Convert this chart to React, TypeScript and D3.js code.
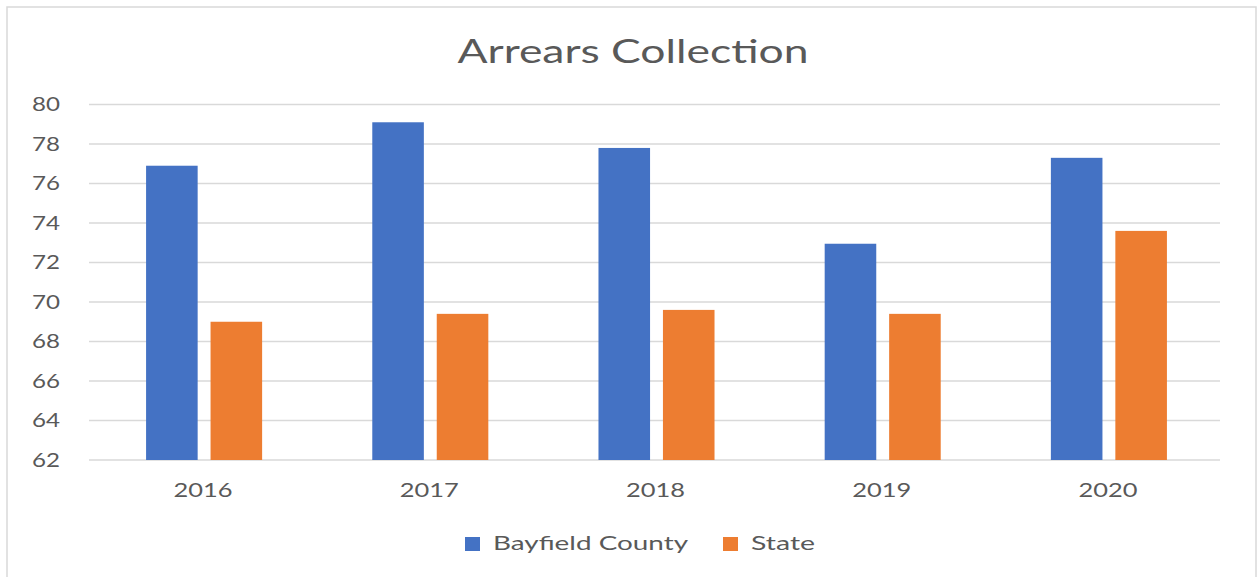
import * as d3 from 'd3';

const years = ['2016', '2017', '2018', '2019', '2020'];
const seriesNames = ['Bayfield County', 'State'];
const bayfield = [76.9, 79.1, 77.8, 72.95, 77.3];
const state = [69.0, 69.4, 69.6, 69.4, 73.6];
const colors = ['#4472C4', '#ED7D31'];
const yTicks = [62, 64, 66, 68, 70, 72, 74, 76, 78, 80];

const W = 1257;
const H = 577;
const margin = { left: 89, right: 37, top: 104.5, bottom: 117 };
const font = 'Lato, "Open Sans", sans-serif';
const textColor = '#595959';

export default function App() {
  const x0 = d3
    .scaleBand<string>()
    .domain(years)
    .range([margin.left, W - margin.right])
    .paddingInner(0.487)
    .paddingOuter(0.2435);
  const x1 = d3.scaleBand<number>().domain([0, 1]).range([0, x0.bandwidth()]).paddingInner(0.2);
  const y = d3.scaleLinear().domain([62, 80]).range([H - margin.bottom, margin.top]);

  const rows = years.map((yr, i) => ({ year: yr, values: [bayfield[i], state[i]] }));

  return (
    <svg width={W} height={H} style={{ position: 'absolute', left: 0, top: 0 }}>
      <rect x={0} y={0} width={W} height={H} fill="#fff" />
      <rect x={7} y={7} width={1249} height={580} fill="none" stroke="#d9d9d9" strokeWidth={1.5} />

      <text
        x={633}
        y={63}
        textAnchor="middle"
        fontFamily={font}
        fontSize={33}
        fill={textColor}
        textLength={351}
        lengthAdjust="spacingAndGlyphs"
      >
        Arrears Collection
      </text>

      {/* gridlines + y labels */}
      {yTicks.map((t) => (
        <g key={t}>
          <line
            x1={margin.left}
            x2={W - margin.right}
            y1={y(t)}
            y2={y(t)}
            stroke="#d9d9d9"
            strokeWidth={1.5}
          />
          <text
            x={60}
            y={y(t)}
            dy="0.35em"
            textAnchor="end"
            fontFamily={font}
            fontSize={19}
            fill={textColor}
            textLength={28}
            lengthAdjust="spacingAndGlyphs"
          >
            {t}
          </text>
        </g>
      ))}

      {/* bars (groups sit ~2px right of the band centre, like the source) */}
      {rows.map((r) => (
        <g key={r.year} transform={`translate(${(x0(r.year) as number) + 2},0)`}>
          {r.values.map((v, j) => (
            <rect
              key={j}
              x={x1(j)}
              y={y(v)}
              width={x1.bandwidth()}
              height={y(62) - y(v)}
              fill={colors[j]}
            />
          ))}
        </g>
      ))}

      {/* x labels */}
      {years.map((yr) => (
        <text
          key={yr}
          x={(x0(yr) as number) + x0.bandwidth() / 2 + 1}
          y={497}
          textAnchor="middle"
          fontFamily={font}
          fontSize={20}
          fill={textColor}
          textLength={59}
          lengthAdjust="spacingAndGlyphs"
        >
          {yr}
        </text>
      ))}

      {/* legend */}
      {seriesNames.map((name, j) => {
        const lx = j === 0 ? 465 : 723;
        const tw = j === 0 ? 195 : 64;
        return (
          <g key={name}>
            <rect x={lx} y={537} width={15} height={14} fill={colors[j]} />
            <text
              x={lx + 28}
              y={550}
              fontFamily={font}
              fontSize={20}
              fill={textColor}
              textLength={tw}
              lengthAdjust="spacingAndGlyphs"
            >
              {name}
            </text>
          </g>
        );
      })}
    </svg>
  );
}
